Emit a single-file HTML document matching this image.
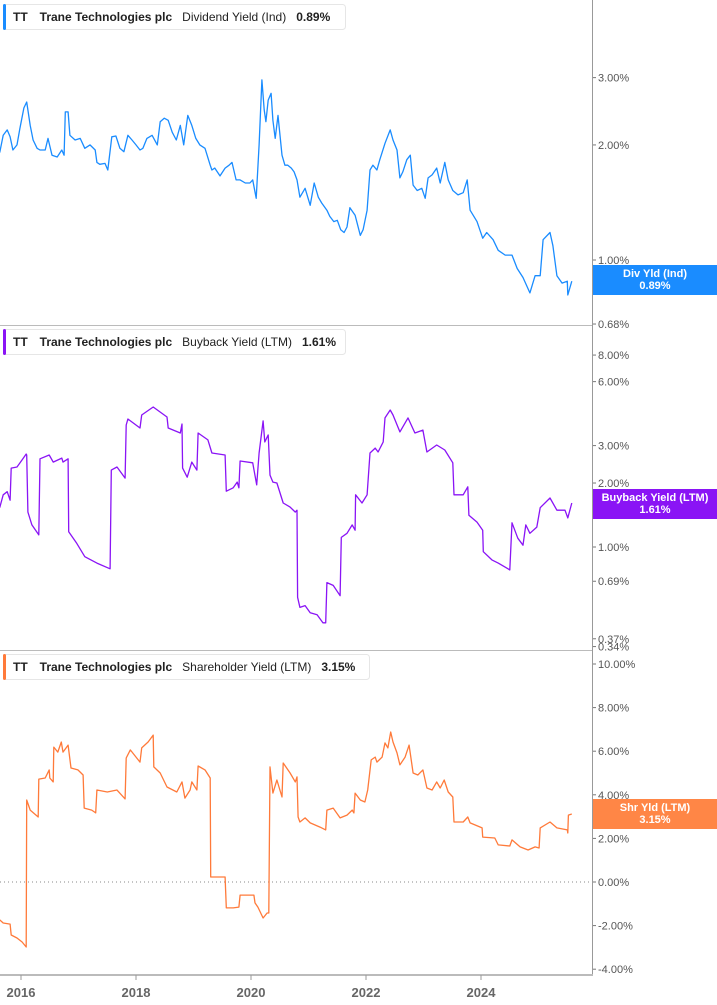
<!DOCTYPE html>
<html><head><meta charset="utf-8"><style>
html,body{margin:0;padding:0;background:#fff;}
svg{display:block;font-family:"Liberation Sans",Arial,sans-serif;}
</style></head><body>
<svg id="chart" width="717" height="1005" viewBox="0 0 717 1005" xmlns="http://www.w3.org/2000/svg">
<g id="grid">
<line x1="592.5" y1="0" x2="592.5" y2="976" stroke="#999" stroke-width="1"/>
<line x1="0" y1="325.5" x2="592" y2="325.5" stroke="#bbb" stroke-width="1"/>
<line x1="0" y1="650.5" x2="592" y2="650.5" stroke="#bbb" stroke-width="1"/>
<line x1="0" y1="882" x2="592" y2="882" stroke="#888" stroke-width="1" stroke-dasharray="1,3"/>
<line x1="0" y1="975" x2="593" y2="975" stroke="#bbb" stroke-width="2"/>
</g>
<g id="series"></g>
<g id="axes"></g>
<g id="headers"></g>
</svg>
<script>
const years = [2016, 2018, 2020, 2022, 2024];
const divTicks = [3.00, 2.00, 1.00, 0.85, 0.68];
const bbTicks = [8.00, 6.00, 3.00, 2.00, 1.00, 0.69, 0.37, 0.34];
const shTicks = [10, 8, 6, 4, 2, 0, -2, -4];

const divDates = [2015.63,2015.69,2015.76,2015.81,2015.86,2015.93,2015.98,2016.05,2016.10,2016.16,2016.21,2016.28,2016.33,2016.42,2016.47,2016.54,2016.63,2016.71,2016.75,2016.77,2016.82,2016.85,2016.94,2017.03,2017.11,2017.20,2017.29,2017.32,2017.37,2017.46,2017.51,2017.58,2017.65,2017.72,2017.79,2017.86,2017.93,2018.00,2018.07,2018.12,2018.19,2018.28,2018.37,2018.42,2018.49,2018.56,2018.63,2018.70,2018.77,2018.83,2018.90,2018.97,2019.04,2019.11,2019.20,2019.29,2019.32,2019.37,2019.46,2019.55,2019.62,2019.67,2019.74,2019.81,2019.90,2019.98,2020.03,2020.09,2020.14,2020.19,2020.23,2020.26,2020.30,2020.35,2020.38,2020.42,2020.47,2020.54,2020.59,2020.64,2020.70,2020.75,2020.80,2020.85,2020.94,2021.03,2021.10,2021.17,2021.23,2021.32,2021.37,2021.44,2021.50,2021.56,2021.62,2021.67,2021.72,2021.81,2021.90,2021.95,2022.02,2022.07,2022.12,2022.19,2022.24,2022.33,2022.42,2022.47,2022.54,2022.59,2022.64,2022.71,2022.77,2022.82,2022.89,2022.97,2023.03,2023.08,2023.15,2023.23,2023.29,2023.37,2023.43,2023.51,2023.60,2023.69,2023.76,2023.81,2023.93,2024.03,2024.10,2024.21,2024.30,2024.42,2024.54,2024.63,2024.73,2024.85,2024.94,2025.03,2025.08,2025.20,2025.25,2025.32,2025.41,2025.50,2025.51,2025.58];
const divValues = [1.91,2.12,2.19,2.10,1.94,2.00,2.21,2.50,2.59,2.25,2.06,1.96,1.94,1.94,2.08,1.88,1.86,1.94,1.88,2.44,2.44,2.12,2.06,2.08,1.96,2.00,1.94,1.80,1.78,1.79,1.72,2.10,2.11,1.96,1.92,2.12,2.06,2.00,1.94,1.96,2.08,2.12,2.00,2.30,2.35,2.32,2.16,2.06,2.25,2.00,2.39,2.25,2.08,2.00,1.96,1.77,1.72,1.74,1.66,1.74,1.77,1.80,1.62,1.62,1.59,1.59,1.62,1.45,2.00,2.96,2.47,2.30,2.62,2.73,2.32,2.08,2.39,1.88,1.77,1.77,1.74,1.70,1.62,1.46,1.54,1.39,1.59,1.46,1.41,1.35,1.30,1.26,1.27,1.20,1.18,1.22,1.37,1.31,1.16,1.20,1.35,1.72,1.77,1.72,1.83,2.02,2.19,2.06,1.94,1.64,1.70,1.83,1.88,1.57,1.52,1.54,1.45,1.64,1.67,1.74,1.59,1.80,1.62,1.52,1.48,1.50,1.62,1.35,1.26,1.14,1.18,1.13,1.06,1.03,1.03,0.95,0.90,0.82,0.91,0.91,1.13,1.18,1.09,0.91,0.87,0.88,0.81,0.88];

const bbDates = [2015.63,2015.69,2015.76,2015.81,2015.83,2015.93,2016.02,2016.09,2016.10,2016.12,2016.19,2016.31,2016.33,2016.49,2016.56,2016.71,2016.73,2016.82,2016.83,2016.97,2017.11,2017.32,2017.55,2017.57,2017.67,2017.81,2017.83,2017.86,2018.07,2018.10,2018.30,2018.54,2018.56,2018.77,2018.80,2018.81,2018.89,2018.97,2019.06,2019.08,2019.25,2019.32,2019.55,2019.57,2019.69,2019.76,2019.79,2019.81,2020.03,2020.10,2020.14,2020.21,2020.24,2020.30,2020.33,2020.38,2020.45,2020.56,2020.68,2020.77,2020.80,2020.81,2020.85,2020.94,2021.03,2021.15,2021.25,2021.30,2021.32,2021.43,2021.55,2021.57,2021.67,2021.76,2021.81,2021.82,2021.93,2022.02,2022.07,2022.16,2022.21,2022.30,2022.33,2022.42,2022.47,2022.59,2022.73,2022.85,2022.99,2023.06,2023.23,2023.37,2023.51,2023.53,2023.69,2023.77,2023.79,2023.93,2024.03,2024.04,2024.19,2024.30,2024.50,2024.54,2024.64,2024.73,2024.78,2024.85,2024.97,2025.03,2025.20,2025.32,2025.46,2025.51,2025.58];
const bbValues = [1.53,1.76,1.82,1.66,2.35,2.38,2.57,2.74,2.71,1.46,1.27,1.14,2.60,2.71,2.51,2.62,2.51,2.60,1.18,1.04,0.90,0.84,0.79,2.30,2.38,2.11,3.75,4.00,3.63,4.18,4.56,4.09,3.63,3.44,3.79,2.35,2.13,2.51,2.30,3.44,3.19,2.77,2.71,1.83,1.90,2.02,1.90,2.54,2.49,1.96,2.77,3.92,3.12,3.37,2.18,2.02,2.00,1.61,1.54,1.46,1.49,0.58,0.52,0.53,0.49,0.48,0.44,0.44,0.68,0.66,0.59,1.11,1.16,1.27,1.20,1.76,1.61,1.76,2.77,2.92,2.80,3.12,4.05,4.41,4.18,3.48,4.05,3.44,3.55,2.80,3.02,2.86,2.49,1.76,1.76,1.92,1.41,1.31,1.20,0.95,0.87,0.84,0.78,1.30,1.10,1.02,1.27,1.16,1.24,1.53,1.70,1.49,1.49,1.37,1.61];

const shDates = [2015.63,2015.69,2015.81,2015.83,2015.93,2016.02,2016.09,2016.10,2016.16,2016.30,2016.31,2016.42,2016.49,2016.50,2016.56,2016.57,2016.64,2016.70,2016.73,2016.82,2016.87,2016.99,2017.08,2017.10,2017.23,2017.30,2017.32,2017.50,2017.67,2017.81,2017.83,2017.90,2018.07,2018.10,2018.21,2018.30,2018.31,2018.42,2018.54,2018.71,2018.80,2018.85,2018.94,2018.97,2019.06,2019.08,2019.20,2019.29,2019.30,2019.55,2019.57,2019.69,2019.79,2019.81,2020.05,2020.07,2020.12,2020.21,2020.28,2020.31,2020.33,2020.38,2020.45,2020.54,2020.56,2020.68,2020.77,2020.80,2020.82,2020.85,2020.94,2021.03,2021.20,2021.30,2021.32,2021.43,2021.55,2021.67,2021.76,2021.79,2021.81,2021.90,2021.98,2022.03,2022.09,2022.16,2022.19,2022.28,2022.33,2022.38,2022.43,2022.47,2022.54,2022.59,2022.68,2022.75,2022.82,2022.90,2022.99,2023.06,2023.15,2023.23,2023.29,2023.36,2023.43,2023.51,2023.53,2023.69,2023.77,2023.81,2024.02,2024.03,2024.24,2024.30,2024.50,2024.54,2024.68,2024.82,2024.94,2025.01,2025.03,2025.20,2025.32,2025.50,2025.51,2025.52,2025.58];
const shValues = [-1.74,-1.88,-1.93,-2.43,-2.57,-2.75,-2.98,3.76,3.30,2.98,4.72,4.77,5.14,4.77,4.59,6.19,5.96,6.42,5.96,6.28,5.23,5.14,4.91,3.39,3.30,3.17,4.22,4.13,4.22,3.81,5.69,6.06,5.50,6.15,6.42,6.74,5.28,5.00,4.36,4.13,4.59,3.85,4.22,4.59,4.22,5.32,5.14,4.77,0.23,0.23,-1.19,-1.19,-1.15,-0.60,-0.60,-0.96,-1.15,-1.65,-1.42,-1.42,5.28,4.08,4.68,3.90,5.46,5.00,4.59,4.82,2.98,2.75,2.94,2.71,2.52,2.39,3.30,3.39,2.94,3.07,3.30,3.17,4.08,3.76,3.67,4.22,5.60,5.73,5.50,5.73,6.38,6.15,6.88,6.42,5.92,5.37,5.73,6.28,5.00,4.91,5.14,4.31,4.22,4.59,4.31,4.68,4.13,3.90,2.75,2.75,2.98,2.71,2.48,2.06,2.02,1.70,1.65,1.93,1.61,1.47,1.61,1.56,2.48,2.75,2.48,2.39,2.25,3.07,3.12];

const NS = "http://www.w3.org/2000/svg";
function xOf(yr){ return 21 + (yr - 2016) * 57.5; }
function yDiv(v){ return 260 - 166 * Math.log(v); }
function yBb(v){ return 547 - 92.3 * Math.log(v); }
function ySh(v){ return 882 - 21.8 * v; }
function mk(tag, attrs, parent){ const e = document.createElementNS(NS, tag); for (const k in attrs) e.setAttribute(k, attrs[k]); parent.appendChild(e); return e; }

const series = document.getElementById('series');
function drawLine(dates, vals, yf, color, name){
  let d = '';
  for (let i = 0; i < dates.length; i++) d += (i ? 'L' : 'M') + xOf(dates[i]).toFixed(1) + ',' + yf(vals[i]).toFixed(1);
  const p = mk('path', {d: d, fill: 'none', stroke: color, 'stroke-width': '1.3', 'stroke-linejoin': 'round'}, series);
  
  
}
drawLine(divDates, divValues, yDiv, '#1a8cff', 'dividend-yield-line');
drawLine(bbDates, bbValues, yBb, '#8a14f5', 'buyback-yield-line');
drawLine(shDates, shValues, ySh, '#ff7a3a', 'shareholder-yield-line');

const axes = document.getElementById('axes');
function tickLabel(y, txt, name){
  const t = mk('line', {x1: 593, x2: 596, y1: y, y2: y, stroke: '#777'}, axes);
  
  
  const l = mk('text', {x: 598, y: y + 4, 'font-size': '11', fill: '#555'}, axes);
  l.textContent = txt;
  
  
}
divTicks.forEach(v => tickLabel(yDiv(v), v.toFixed(2) + '%', 'div-y-tick-label'));
bbTicks.forEach(v => tickLabel(yBb(v), v.toFixed(2) + '%', 'bb-y-tick-label'));
shTicks.forEach(v => tickLabel(ySh(v), v.toFixed(2) + '%', 'sh-y-tick-label'));
years.forEach(yr => {
  const x = xOf(yr);
  const t = mk('line', {x1: x, x2: x, y1: 975, y2: 980, stroke: '#999'}, axes);
  
  
  const l = mk('text', {x: x, y: 997, 'font-size': '13', 'font-weight': 'bold', fill: '#666', 'text-anchor': 'middle'}, axes);
  l.textContent = String(yr);
  
  
});

function valueTag(y, h, color, l1, l2, name){
  const r = mk('rect', {x: 593, y: y, width: 124, height: h, fill: color}, axes);
  
  
  const a = mk('text', {x: 655, y: y + 12, 'font-size': '11', 'font-weight': 'bold', fill: '#fff', 'text-anchor': 'middle'}, axes);
  a.textContent = l1;
  
  
  const b = mk('text', {x: 655, y: y + 24, 'font-size': '11', 'font-weight': 'bold', fill: '#fff', 'text-anchor': 'middle'}, axes);
  b.textContent = l2;
  
  
}
valueTag(265, 30, '#1a8cff', 'Div Yld (Ind)', '0.89%', 'div-value-tag');
valueTag(489, 30, '#8a14f5', 'Buyback Yield (LTM)', '1.61%', 'bb-value-tag');
valueTag(799, 30, '#ff8646', 'Shr Yld (LTM)', '3.15%', 'sh-value-tag');

const headers = document.getElementById('headers');
function header(y, w, color, metric, val, name){
  const g = mk('g', {}, headers);
  
  
  mk('rect', {x: 3.5, y: y + 0.5, width: w, height: 25, rx: 3, fill: '#fff', stroke: '#e6e6e6'}, g);
  mk('rect', {x: 3, y: y, width: 3, height: 26, rx: 1.5, fill: color}, g);
  const t = mk('text', {x: 13, y: y + 17, 'font-size': '12', fill: '#222'}, g);
  t.innerHTML = '<tspan font-weight="bold">TT</tspan><tspan dx="12" font-weight="bold">Trane Technologies plc</tspan><tspan dx="10">' + metric + '</tspan><tspan dx="10" font-weight="bold">' + val + '</tspan>';
}
header(4, 342, '#1a8cff', 'Dividend Yield (Ind)', '0.89%', 'dividend-legend');
header(329, 342, '#8a14f5', 'Buyback Yield (LTM)', '1.61%', 'buyback-legend');
header(654, 366, '#ff7a3a', 'Shareholder Yield (LTM)', '3.15%', 'shareholder-legend');
</script>
</body></html>
